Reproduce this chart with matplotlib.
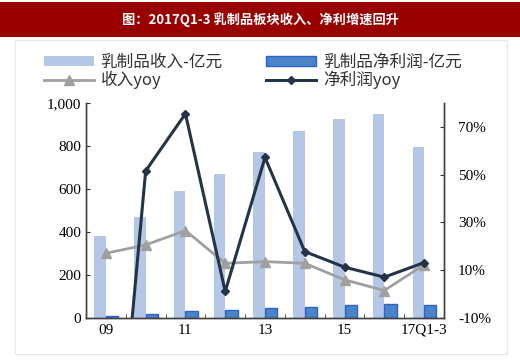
import numpy as np
import matplotlib
matplotlib.use('Agg')
import matplotlib.pyplot as plt
from matplotlib.patches import Rectangle
from matplotlib.lines import Line2D

plt.rcParams['font.family'] = ['Noto Sans CJK SC', 'DejaVu Sans']

years = ['09', '10', '11', '12', '13', '14', '15', '16', '17Q1-3']
revenue = [380, 470, 593, 671, 770, 870, 927, 948, 796]
profit = [11, 20, 31, 36, 45, 49, 60, 66, 60]
revenue_yoy = [17.1, 20.6, 26.6, 12.9, 13.6, 12.9, 6.0, 1.5, 12.3]
profit_yoy = [-130.0, 51.6, 75.5, 1.1, 57.2, 17.8, 11.3, 7.1, 13.2]
tick_labels = ['09', '', '11', '', '13', '', '15', '', '17Q1-3']

fig = plt.figure(figsize=(5.2, 3.6), dpi=100)

# title bar
fig.patches.append(Rectangle((0, 1 - 37 / 360), 1, 35 / 360, transform=fig.transFigure,
                             facecolor='#990000', edgecolor='none'))
fig.text(0.5, 1 - 20 / 360, '图：2017Q1-3 乳制品板块收入、净利增速回升', color='white',
         ha='center', va='center', fontsize=9.5, fontweight='bold')
fig.patches.append(Rectangle((15 / 520, 6 / 360), 492 / 520, 314 / 360, transform=fig.transFigure,
                             facecolor='none', edgecolor='#E6E6E6', linewidth=0.8))

ax = fig.add_axes([86 / 520, 1 - 318 / 360, 358 / 520, 215 / 360])
x = np.arange(len(years))
w = 0.29
ax.bar(x - w / 2, revenue, width=w, color='#B4C7E7', zorder=1)
ax.bar(x + w / 2 + 0.01, profit, width=w + 0.02, color='#4A84C4', edgecolor='#2F62D0', linewidth=1.0, zorder=2)
ax.set_ylim(0, 1000)
ax.set_xlim(-0.5, 8.5)
ax.set_yticks([0, 200, 400, 600, 800, 1000])
ax.set_yticklabels(['0', '200', '400', '600', '800', '1,000'], family='Liberation Serif', fontsize=11)
ax.set_xticks(x)
ax.set_xticklabels(tick_labels, family='Liberation Serif', fontsize=11)
ax.set_xticks(np.arange(-0.5, 8.6, 1), minor=True)
ax.tick_params(axis='x', which='major', length=0, pad=4)
ax.tick_params(axis='x', which='minor', direction='in', length=3, color='#333333')
ax.tick_params(axis='y', direction='in', length=3, color='#333333')
ax.spines['top'].set_visible(False)
for s in ['left', 'bottom', 'right']:
    ax.spines[s].set_color('#404040')
    ax.spines[s].set_linewidth(1.0)

ax2 = ax.twinx()
ax2.plot(x, revenue_yoy, color='#A0A0A0', linewidth=2, marker='^', markersize=7, zorder=3)
ax2.plot(x, profit_yoy, color='#243447', linewidth=2.2, marker='D', markersize=4.5, zorder=4)
ax2.set_ylim(-10, 80)
ax2.set_yticks([-10, 10, 30, 50, 70])
ax2.set_yticklabels(['-10%', '10%', '30%', '50%', '70%'], family='Liberation Serif', fontsize=11)
ax2.tick_params(axis='y', direction='in', length=3, color='#333333', pad=10)
ax2.spines['top'].set_visible(False)
for s in ['left', 'bottom', 'right']:
    ax2.spines[s].set_color('#404040')
    ax2.spines[s].set_linewidth(1.0)

h_rev = Rectangle((0, 0), 1, 1, facecolor='#B4C7E7', edgecolor='none')
h_pro = Rectangle((0, 0), 1, 1, facecolor='#4A84C4', edgecolor='#2F62D0')
h_ryoy = Line2D([0], [0], color='#A0A0A0', linewidth=2, marker='^', markersize=7)
h_pyoy = Line2D([0], [0], color='#243447', linewidth=2.2, marker='D', markersize=4.5)
handles = [h_rev, h_ryoy, h_pro, h_pyoy]
labels = ['乳制品收入-亿元', '收入yoy', '乳制品净利润-亿元', '净利润yoy']
fig.legend(handles, labels, ncol=2, loc='upper left', bbox_to_anchor=(34 / 520, 1 - 44 / 360),
           frameon=False, fontsize=12, handlelength=3.0, handleheight=0.6,
           columnspacing=2.6, labelspacing=0.0, handletextpad=0.4, borderpad=0.1,
           labelcolor='#333333')

fig.savefig('out.png', dpi=100)
